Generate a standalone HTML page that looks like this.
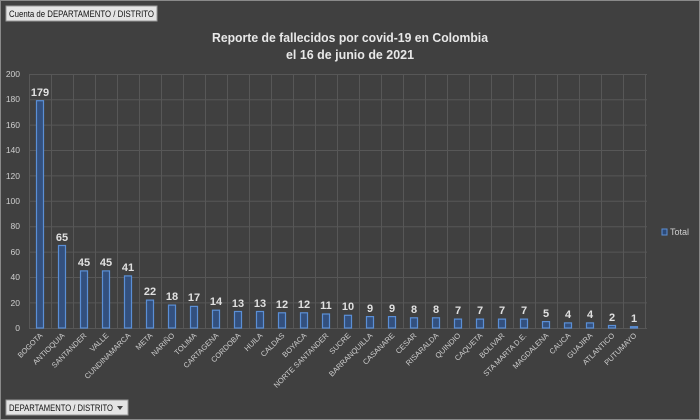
<!DOCTYPE html>
<html><head><meta charset="utf-8"><style>
html,body{margin:0;padding:0;background:#404040;}
svg{display:block;font-family:"Liberation Sans",sans-serif;}
</style></head><body>
<svg width="700" height="420" viewBox="0 0 700 420" xmlns="http://www.w3.org/2000/svg">
<rect x="0" y="0" width="700" height="420" fill="#404040"/>
<rect x="0.5" y="0.5" width="699" height="419" fill="none" stroke="#8a8a8a"/>
<rect x="6" y="6" width="151" height="15" fill="#e4e4e4" stroke="#999"/>
<text x="9" y="17" font-size="9" fill="#111" textLength="145" lengthAdjust="spacingAndGlyphs">Cuenta de DEPARTAMENTO / DISTRITO</text>
<rect x="6" y="400" width="122" height="15" fill="#e4e4e4" stroke="#999"/>
<text x="9" y="411" font-size="9" fill="#111" textLength="104" lengthAdjust="spacingAndGlyphs">DEPARTAMENTO / DISTRITO</text>
<path d="M117 406 L123 406 L120 410 Z" fill="#444"/>
<text x="350" y="42" font-size="13" font-weight="bold" fill="#e8e8e8" text-anchor="middle" textLength="276" lengthAdjust="spacingAndGlyphs">Reporte de fallecidos por covid-19 en Colombia</text>
<text x="350" y="59" font-size="13" font-weight="bold" fill="#e8e8e8" text-anchor="middle" textLength="128" lengthAdjust="spacingAndGlyphs">el 16 de junio de 2021</text>
<path stroke="#575757" stroke-width="1" fill="none" d="M29 328.5H647M29 302.9H647M29 277.5H647M29 252.1H647M29 226.7H647M29 201.3H647M29 175.9H647M29 150.5H647M29 125.1H647M29 99.7H647M29 74.5H647
M29.5 74V328M51.5 74V328M73.5 74V328M95.5 74V328M117.5 74V328M139.5 74V328M161.5 74V328M183.5 74V328M205.5 74V328M227.5 74V328M249.5 74V328M271.5 74V328M293.5 74V328M315.5 74V328M337.5 74V328M359.5 74V328M381.5 74V328M403.5 74V328M425.5 74V328M447.5 74V328M469.5 74V328M491.5 74V328M513.5 74V328M535.5 74V328M557.5 74V328M579.5 74V328M601.5 74V328M623.5 74V328M645.5 74V328"/>
<g font-size="8.5" fill="#cfcfcf" text-anchor="end">
<text x="20" y="331">0</text><text x="20" y="306">20</text><text x="20" y="280">40</text><text x="20" y="255">60</text><text x="20" y="229">80</text><text x="20" y="204">100</text><text x="20" y="179">120</text><text x="20" y="153">140</text><text x="20" y="128">160</text><text x="20" y="102">180</text><text x="20" y="77">200</text>
</g>
<g fill="#33507e" stroke="#5b8fd6" stroke-width="1.2">
<rect x="36.5" y="100.7" width="7" height="227.3"/>
<rect x="58.5" y="245.5" width="7" height="82.5"/>
<rect x="80.5" y="270.9" width="7" height="57.1"/>
<rect x="102.5" y="270.9" width="7" height="57.1"/>
<rect x="124.5" y="275.9" width="7" height="52.1"/>
<rect x="146.5" y="300.1" width="7" height="27.9"/>
<rect x="168.5" y="305.1" width="7" height="22.9"/>
<rect x="190.5" y="306.4" width="7" height="21.6"/>
<rect x="212.5" y="310.2" width="7" height="17.8"/>
<rect x="234.5" y="311.5" width="7" height="16.5"/>
<rect x="256.5" y="311.5" width="7" height="16.5"/>
<rect x="278.5" y="312.8" width="7" height="15.2"/>
<rect x="300.5" y="312.8" width="7" height="15.2"/>
<rect x="322.5" y="314.0" width="7" height="14.0"/>
<rect x="344.5" y="315.3" width="7" height="12.7"/>
<rect x="366.5" y="316.6" width="7" height="11.4"/>
<rect x="388.5" y="316.6" width="7" height="11.4"/>
<rect x="410.5" y="317.8" width="7" height="10.2"/>
<rect x="432.5" y="317.8" width="7" height="10.2"/>
<rect x="454.5" y="319.1" width="7" height="8.9"/>
<rect x="476.5" y="319.1" width="7" height="8.9"/>
<rect x="498.5" y="319.1" width="7" height="8.9"/>
<rect x="520.5" y="319.1" width="7" height="8.9"/>
<rect x="542.5" y="321.6" width="7" height="6.4"/>
<rect x="564.5" y="322.9" width="7" height="5.1"/>
<rect x="586.5" y="322.9" width="7" height="5.1"/>
<rect x="608.5" y="325.5" width="7" height="2.5"/>
<rect x="630.5" y="326.7" width="7" height="1.3"/>
</g>
<g font-size="11" font-weight="bold" fill="#e0e0e0" text-anchor="middle">
<text x="40" y="96">179</text><text x="62" y="241">65</text><text x="84" y="266">45</text><text x="106" y="266">45</text><text x="128" y="271">41</text><text x="150" y="295">22</text><text x="172" y="300">18</text><text x="194" y="301">17</text><text x="216" y="305">14</text><text x="238" y="307">13</text><text x="260" y="307">13</text><text x="282" y="308">12</text><text x="304" y="308">12</text><text x="326" y="309">11</text><text x="348" y="310">10</text><text x="370" y="312">9</text><text x="392" y="312">9</text><text x="414" y="313">8</text><text x="436" y="313">8</text><text x="458" y="314">7</text><text x="480" y="314">7</text><text x="502" y="314">7</text><text x="524" y="314">7</text><text x="546" y="317">5</text><text x="568" y="318">4</text><text x="590" y="318">4</text><text x="612" y="321">2</text><text x="634" y="322">1</text>
</g>
<g font-size="7.5" fill="#cfcfcf" text-anchor="end">
<text transform="translate(43,336) rotate(-45)">BOGOTA</text>
<text transform="translate(65,336) rotate(-45)">ANTIOQUIA</text>
<text transform="translate(87,336) rotate(-45)">SANTANDER</text>
<text transform="translate(109,336) rotate(-45)">VALLE</text>
<text transform="translate(131,336) rotate(-45)">CUNDINAMARCA</text>
<text transform="translate(153,336) rotate(-45)">META</text>
<text transform="translate(175,336) rotate(-45)">NARIÑO</text>
<text transform="translate(197,336) rotate(-45)">TOLIMA</text>
<text transform="translate(219,336) rotate(-45)">CARTAGENA</text>
<text transform="translate(241,336) rotate(-45)">CORDOBA</text>
<text transform="translate(263,336) rotate(-45)">HUILA</text>
<text transform="translate(285,336) rotate(-45)">CALDAS</text>
<text transform="translate(307,336) rotate(-45)">BOYACA</text>
<text transform="translate(329,336) rotate(-45)">NORTE SANTANDER</text>
<text transform="translate(351,336) rotate(-45)">SUCRE</text>
<text transform="translate(373,336) rotate(-45)">BARRANQUILLA</text>
<text transform="translate(395,336) rotate(-45)">CASANARE</text>
<text transform="translate(417,336) rotate(-45)">CESAR</text>
<text transform="translate(439,336) rotate(-45)">RISARALDA</text>
<text transform="translate(461,336) rotate(-45)">QUINDIO</text>
<text transform="translate(483,336) rotate(-45)">CAQUETA</text>
<text transform="translate(505,336) rotate(-45)">BOLIVAR</text>
<text transform="translate(527,336) rotate(-45)">STA MARTA D.E.</text>
<text transform="translate(549,336) rotate(-45)">MAGDALENA</text>
<text transform="translate(571,336) rotate(-45)">CAUCA</text>
<text transform="translate(593,336) rotate(-45)">GUAJIRA</text>
<text transform="translate(615,336) rotate(-45)">ATLANTICO</text>
<text transform="translate(637,336) rotate(-45)">PUTUMAYO</text>
</g>
<rect x="662" y="229" width="5" height="6" fill="#2c4a78" stroke="#5b8fd6"/>
<text x="670" y="235" font-size="9" fill="#cfcfcf">Total</text>
</svg>
</body></html>
